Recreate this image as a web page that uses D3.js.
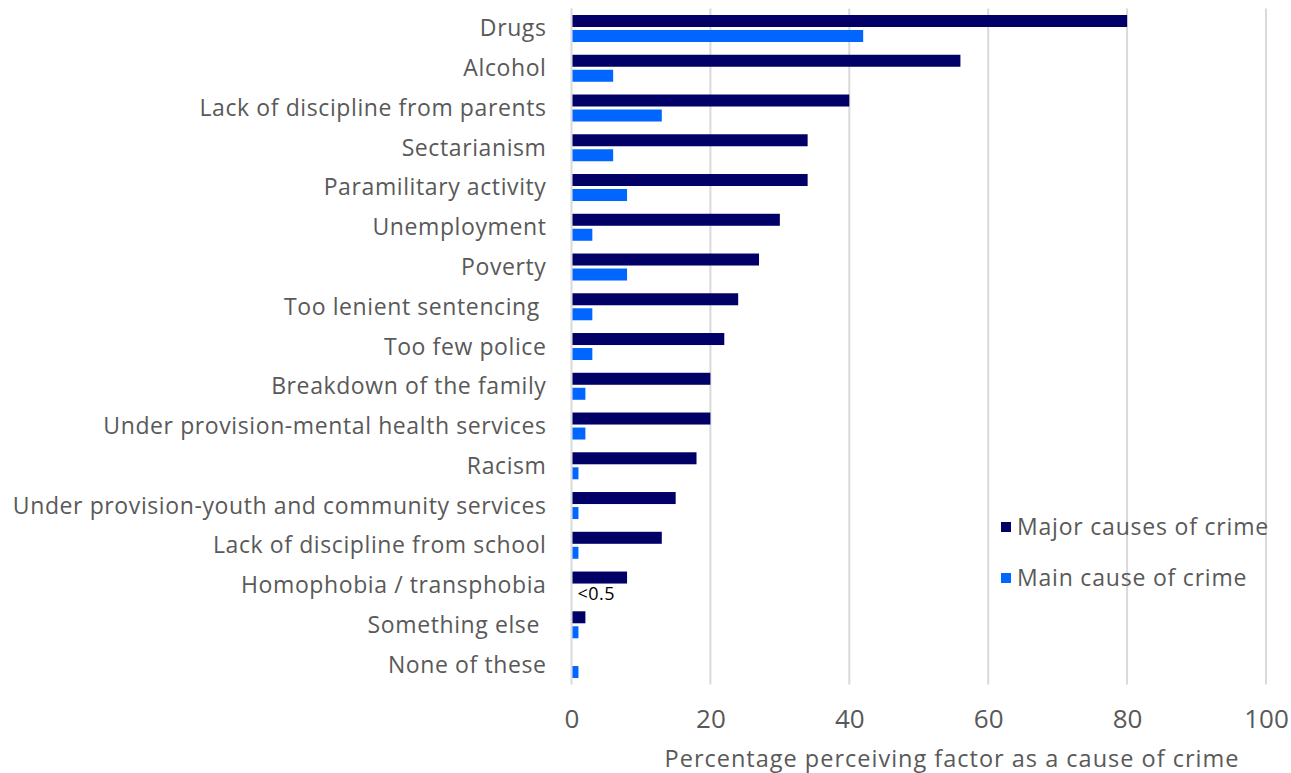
<!DOCTYPE html>
<html>
<head>
<meta charset="utf-8">
<script src="https://cdn.jsdelivr.net/npm/d3@7"></script>
<style>
  html, body { margin: 0; padding: 0; background: #fff; }
  svg text { font-family: "Open Sans", Lato, sans-serif; white-space: pre; }
</style>
</head>
<body>
<svg id="chart" width="1291" height="773"></svg>
<script>
// Perceived causes of crime (% of respondents)
const categories = [
  "Drugs", "Alcohol", "Lack of discipline from parents", "Sectarianism",
  "Paramilitary activity", "Unemployment", "Poverty", "Too lenient sentencing ",
  "Too few police", "Breakdown of the family", "Under provision-mental health services",
  "Racism", "Under provision-youth and community services", "Lack of discipline from school",
  "Homophobia / transphobia", "Something else ", "None of these"
];
const majorCauses = [80, 56, 40, 34, 34, 30, 27, 24, 22, 20, 20, 18, 15, 13, 8, 2, 0];
const mainCause   = [42, 6, 13, 6, 8, 3, 8, 3, 3, 2, 2, 1, 1, 1, 0.3, 1, 1];
const seriesNames = ["Major causes of crime", "Main cause of crime"];
const xTicks = [0, 20, 40, 60, 80, 100];
// value labels for bars too small to show
const smallLabels = [{ category: "Homophobia / transphobia", series: "Main cause of crime", text: "<0.5" }];

const colors = { "Major causes of crime": "#000066", "Main cause of crime": "#0066FF" };
const textColor = "#595959";

const svg = d3.select("#chart");
const W = 1291, H = 773;
const plot = { left: 571.5, right: 1266, top: 8.6, bottom: 684.4 };

const x = d3.scaleLinear().domain([0, 100]).range([plot.left, plot.right]);
const y0 = d3.scaleBand().domain(categories).range([plot.top, plot.bottom]).padding(0);
const y1 = d3.scaleBand().domain(seriesNames).range([6.4, 33.4]).paddingInner(0.2);

const rows = categories.map((c, i) => ({
  category: c,
  values: [
    { series: seriesNames[0], value: majorCauses[i] },
    { series: seriesNames[1], value: mainCause[i] }
  ]
}));

// gridlines
svg.append("g")
  .selectAll("line")
  .data(xTicks)
  .join("line")
  .attr("x1", d => x(d)).attr("x2", d => x(d))
  .attr("y1", plot.top).attr("y2", plot.bottom)
  .attr("stroke", "#d9d9d9")
  .attr("stroke-width", 2);

// bars
const groups = svg.append("g")
  .selectAll("g")
  .data(rows)
  .join("g")
  .attr("transform", d => `translate(0,${y0(d.category)})`);

groups.selectAll("rect")
  .data(d => d.values.filter(v => v.value >= 0.5))
  .join("rect")
  .attr("x", x(0) + 1)
  .attr("y", d => y1(d.series))
  .attr("width", d => x(d.value) - x(0) - 1)
  .attr("height", y1.bandwidth())
  .attr("fill", d => colors[d.series]);

// small-value labels
svg.append("g")
  .selectAll("text")
  .data(smallLabels)
  .join("text")
  .attr("x", x(0) + 6)
  .attr("y", d => y0(d.category) + y1(d.series) + y1.bandwidth() / 2 + 7)
  .attr("font-size", 18)
  .attr("letter-spacing", 0.5)
  .attr("fill", "#000")
  .text(d => d.text);

// category labels
svg.append("g")
  .selectAll("text")
  .data(categories)
  .join("text")
  .attr("x", plot.left - 25)
  .attr("y", d => y0(d) + y0.bandwidth() / 2 + 8)
  .attr("text-anchor", "end")
  .attr("font-size", 23)
  .attr("letter-spacing", 0.6)
  .attr("fill", textColor)
  .text(d => d);

// x axis tick labels
const xAxis = d3.axisBottom(x).tickValues(xTicks).tickSize(0).tickPadding(0);
const ax = svg.append("g")
  .attr("transform", `translate(0,728)`)
  .call(xAxis);
ax.select(".domain").remove();
ax.selectAll("text")
  .attr("y", 0)
  .attr("dy", 0)
  .attr("font-size", 26)
  .attr("fill", textColor)
  .style("font-family", '"Open Sans", Lato, sans-serif');

// axis title
svg.append("text")
  .attr("x", 952)
  .attr("y", 767)
  .attr("text-anchor", "middle")
  .attr("font-size", 23.5)
  .attr("letter-spacing", 1.0)
  .attr("fill", textColor)
  .text("Percentage perceiving factor as a cause of crime");

// legend
const legend = svg.append("g")
  .selectAll("g")
  .data(seriesNames)
  .join("g")
  .attr("transform", (d, i) => `translate(1001,${527 + i * 51})`);
legend.append("rect")
  .attr("x", 0).attr("y", -5)
  .attr("width", 10).attr("height", 10)
  .attr("fill", d => colors[d]);
legend.append("text")
  .attr("x", 16)
  .attr("y", 8)
  .attr("font-size", 23)
  .attr("letter-spacing", 0.8)
  .attr("fill", textColor)
  .text(d => d);
</script>
</body>
</html>
